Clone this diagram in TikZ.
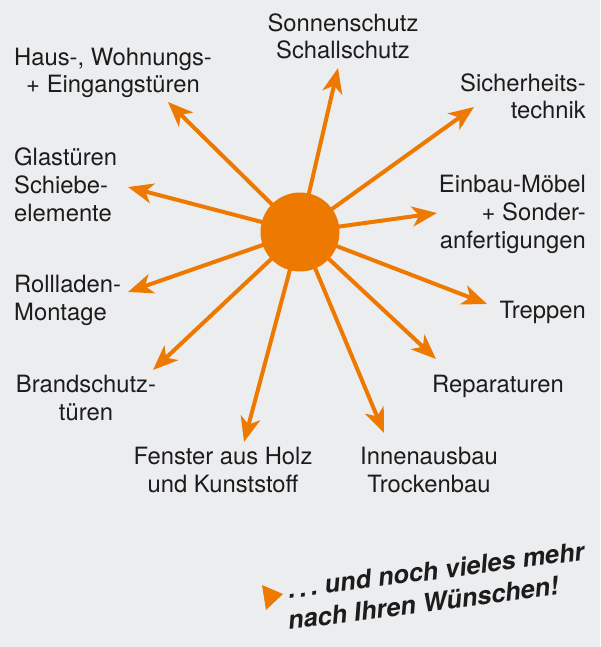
\documentclass[tikz,border=0pt]{standalone}
\usepackage{fontspec}
\setmainfont{TeX Gyre Heros}
\usetikzlibrary{arrows.meta}
\definecolor{bg}{RGB}{236,237,239}
\definecolor{sunorange}{RGB}{238,121,0}
\definecolor{txt}{RGB}{28,28,28}
\begin{document}
\begin{tikzpicture}[x=1pt,y=-1pt,
  lbl/.style={inner sep=0pt,text=txt,font=\fontsize{23.8}{27.8}\selectfont},
  ray/.style={draw=sunorange,line width=4pt,-{Stealth[length=25pt,width=20pt,inset=7pt]}},
  sun/.style={circle,fill=sunorange,minimum size=79pt,inner sep=0pt}]
\fill[bg] (0,0) rectangle (600,647);
\useasboundingbox (0,0) rectangle (600,647);
% end points of the rays
\coordinate (tSonne) at (338,68);
\coordinate (tSicher) at (474,107);
\coordinate (tEinbau) at (437,213);
\coordinate (tTreppen) at (487,304);
\coordinate (tRepar) at (436,359);
\coordinate (tInnen) at (384,433);
\coordinate (tFenster) at (244,442);
\coordinate (tBrand) at (153,370);
\coordinate (tRoll) at (128,292);
\coordinate (tGlas) at (128,187);
\coordinate (tHaus) at (168,102);
% rays
\foreach \t in {tSonne,tSicher,tEinbau,tTreppen,tRepar,tInnen,tFenster,tBrand,tRoll,tGlas,tHaus}
  \draw[ray] (300,232) -- (\t);
\node[sun] (c) at (300,232) {};
% labels (base anchor = baseline of the last line)
\node[lbl,align=center,anchor=base] (lSonne) at (343,59) {Sonnenschutz\\Schallschutz};
\node[lbl,align=center,anchor=base] (lHaus) at (113,93) {Haus-, Wohnungs-\\+ Eingangstüren};
\node[lbl,align=right,anchor=base east] (lSicher) at (586,119) {Sicherheits-\\technik};
\node[lbl,align=left,anchor=base west] (lGlas) at (14,221) {Glastüren\\Schiebe-\\elemente};
\node[lbl,align=right,anchor=base east] (lEinbau) at (586,248) {Einbau-Möbel\\+ Sonder-\\anfertigungen};
\node[lbl,align=left,anchor=base west] (lRoll) at (14,320) {Rollladen-\\Montage};
\node[lbl,anchor=base east] (lTreppen) at (586,318) {Treppen};
\node[lbl,align=center,anchor=base] (lBrand) at (86,420) {Brandschutz-\\türen};
\node[lbl,anchor=base] (lRepar) at (498,392) {Reparaturen};
\node[lbl,align=center,anchor=base] (lFenster) at (223,492) {Fenster aus Holz\\und Kunststoff};
\node[lbl,align=center,anchor=base] (lInnen) at (429,492) {Innenausbau\\Trockenbau};
% footer
\fill[sunorange] (262,585) -- (283,594) -- (266,610) -- cycle;
\node[inner sep=0pt,text=txt,font=\fontsize{25.5}{31}\selectfont\bfseries\itshape,align=left,anchor=base west,rotate=7.5] (foot) at (289,630) {\hspace*{4pt}.\,.\,.\ und noch vieles mehr\\nach Ihren Wünschen!};
\end{tikzpicture}
\end{document}
